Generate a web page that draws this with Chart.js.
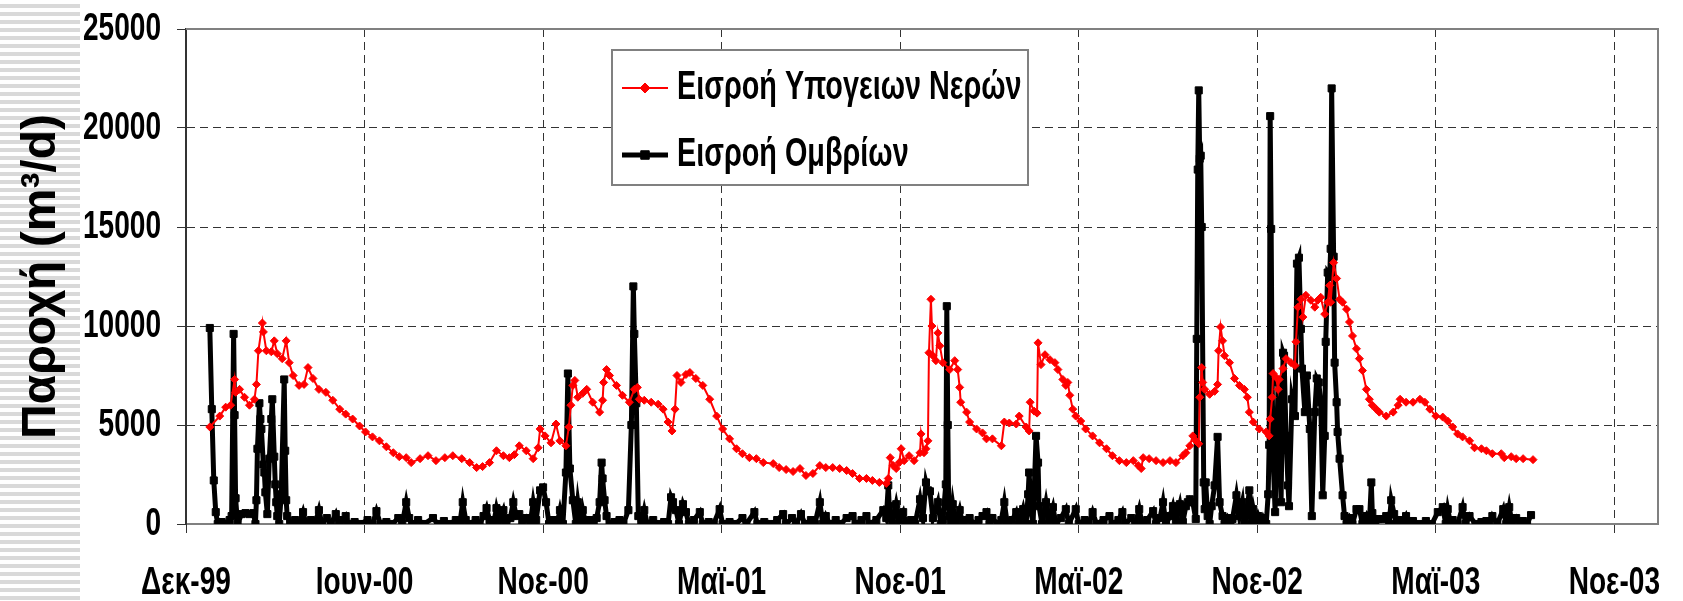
<!DOCTYPE html>
<html>
<head>
<meta charset="utf-8">
<script src="https://cdn.jsdelivr.net/npm/chart.js"></script>
<style>
  html, body { margin: 0; padding: 0; background: #fff; }
  #wrap { position: relative; width: 1683px; height: 601px; }
  #stripes {
    position: absolute; left: 0; top: 0; width: 80px; height: 601px;
    background: repeating-linear-gradient(to bottom, #fff 0px, #fff 4px, #d9d9d9 4px, #d9d9d9 8px);
  }
  canvas { position: absolute; left: 0; top: 0; }
</style>
</head>
<body>
<div id="wrap">
  <div id="stripes"></div>
  <canvas id="chart" width="1683" height="601"></canvas>
</div>
<script>
// x values are days counted from 5 Dec 1999 (axis start)
const startDate = Date.UTC(1999, 11, 5)

const seriesLabels = ['Εισροή Υπογειων Νερών', 'Εισροή Ομβρίων']

const xTickDays = [0, 180, 360, 540, 720, 900, 1080, 1260, 1440]
const xTickLabels = ['Δεκ-99', 'Ιουν-00', 'Νοε-00', 'Μαϊ-01', 'Νοε-01', 'Μαϊ-02', 'Νοε-02', 'Μαϊ-03', 'Νοε-03']
const yTicks = [0, 5000, 10000, 15000, 20000, 25000]

// groundwater inflow (red)
const gwDays = [
  24, 34, 40, 45, 49, 50, 54, 59, 64, 69,
  71, 73, 77, 78, 81, 86, 89, 92, 97, 101,
  104, 108, 114, 119, 123, 128, 134, 141, 148, 155,
  161, 168, 175, 181, 188, 195, 202, 209, 215, 222,
  227, 236, 244, 252, 261, 269, 278, 286, 293, 299,
  306, 313, 320, 326, 331, 336, 343, 350, 355, 357,
  362, 368, 373, 377, 383, 386, 388, 390, 392, 395,
  400, 404, 410, 417, 420, 421, 424, 427, 434, 440,
  447, 452, 455, 457, 462, 469, 476, 481, 486, 490,
  493, 495, 499, 504, 508, 514, 521, 528, 535, 541,
  548, 555, 561, 568, 575, 582, 592, 598, 605, 612,
  619, 625, 632, 639, 645, 652, 659, 666, 672, 679,
  686, 692, 699, 706, 708, 710, 713, 716, 719, 721,
  724, 729, 734, 740, 741, 744, 746, 748, 749, 751,
  752, 753, 756, 758, 760, 763, 770, 775, 778, 780,
  781, 787, 790, 797, 803, 807, 813, 822, 825, 830,
  837, 840, 847, 850, 851, 855, 858, 859, 862, 866,
  871, 876, 879, 884, 887, 889, 891, 894, 897, 902,
  907, 914, 921, 928, 934, 941, 948, 955, 960, 963,
  965, 971, 978, 985, 992, 998, 1005, 1008, 1012, 1015,
  1018, 1021, 1022, 1024, 1025, 1027, 1032, 1037, 1040, 1041,
  1043, 1045, 1047, 1052, 1057, 1062, 1067, 1070, 1072, 1076,
  1082, 1089, 1092, 1093, 1095, 1096, 1099, 1101, 1102, 1106,
  1109, 1114, 1118, 1119, 1121, 1124, 1126, 1129, 1134, 1138,
  1141, 1144, 1148, 1151, 1153, 1154, 1157, 1160, 1163, 1166,
  1170, 1173, 1176, 1180, 1183, 1186, 1190, 1193, 1196, 1200,
  1203, 1210, 1217, 1222, 1224, 1230, 1237, 1244, 1249, 1254,
  1260, 1267, 1272, 1277, 1282, 1287, 1294, 1299, 1306, 1311,
  1317, 1326, 1329, 1336, 1341, 1348, 1358
]
const gwFlow = [
  4900, 5450, 5900, 6000, 7300, 6650, 6800, 6400, 6000, 6300,
  7050, 8750, 10150, 9700, 8750, 8700, 9250, 8600, 8350, 9250,
  8150, 7500, 7000, 7050, 7900, 7350, 6800, 6650, 6250, 5800,
  5550, 5300, 4950, 4650, 4400, 4200, 3900, 3600, 3400, 3350,
  3100, 3300, 3450, 3200, 3350, 3450, 3300, 3100, 2850, 2900,
  3100, 3700, 3450, 3350, 3500, 3950, 3700, 3300, 3850, 4800,
  4450, 4100, 5050, 4200, 3950, 4900, 6000, 7000, 7250, 6400,
  6600, 6800, 6150, 5650, 6250, 7150, 7800, 7500, 7000, 6500,
  6150, 6800, 6900, 6300, 6250, 6150, 6050, 5800, 5150, 4700,
  5800, 7500, 7150, 7550, 7650, 7350, 7000, 6300, 5450, 4800,
  4300, 3800, 3550, 3350, 3300, 3100, 3050, 2850, 2750, 2650,
  2800, 2450, 2550, 2950, 2850, 2850, 2800, 2700, 2550, 2300,
  2300, 2200, 2100, 2050, 2300, 3350, 2950, 2800, 3100, 3800,
  3200, 3450, 3200, 3600, 4550, 3600, 3800, 4200, 8650, 11350,
  10000, 8500, 8250, 9650, 9000, 8150, 7800, 8250, 7800, 6900,
  6150, 5650, 5150, 4800, 4600, 4300, 4300, 3950, 5150, 5100,
  5050, 5450, 4900, 4700, 6150, 5700, 5600, 9150, 8050, 8550,
  8300, 8150, 7800, 7300, 7000, 7150, 6500, 5800, 5450, 5200,
  4800, 4450, 4100, 3800, 3450, 3200, 3100, 3200, 2950, 2800,
  3350, 3300, 3200, 3100, 3200, 3100, 3450, 3600, 3950, 4450,
  4200, 4050, 6400, 7900, 7150, 6800, 6550, 6700, 7050, 8750,
  9950, 9250, 8500, 8150, 7350, 7000, 6800, 6400, 5650, 5150,
  4800, 4650, 4450, 5300, 6400, 7600, 7400, 6800, 7300, 7850,
  8350, 8150, 8000, 9200, 10950, 11350, 10450, 11550, 11300, 10950,
  11300, 11450, 10600, 11200, 12050, 11200, 13200, 12400, 11350, 11200,
  10850, 10200, 9500, 8850, 8350, 7750, 6800, 6300, 6000, 5800,
  5650, 5450, 5650, 6000, 6300, 6150, 6150, 6300, 6150, 5800,
  5450, 5400, 5200, 4900, 4550, 4400, 4200, 3850, 3800, 3700,
  3550, 3550, 3350, 3400, 3300, 3300, 3250
]

// storm water inflow (black)
const stormDays = [
  24, 26, 28, 30, 32, 36, 40, 44, 46, 48,
  49, 50, 52, 56, 60, 64, 68, 70, 71, 72,
  74, 75, 76, 78, 79, 80, 82, 84, 86, 87,
  89, 90, 91, 92, 94, 96, 99, 100, 101, 102,
  105, 110, 114, 118, 121, 126, 130, 134, 137, 142,
  146, 151, 154, 158, 161, 164, 170, 176, 183, 188,
  192, 196, 202, 208, 214, 218, 222, 225, 228, 234,
  240, 249, 254, 260, 266, 272, 276, 279, 282, 286,
  292, 296, 300, 303, 306, 310, 313, 316, 320, 323,
  327, 330, 333, 336, 339, 343, 347, 350, 353, 357,
  360, 363, 366, 370, 374, 377, 380, 383, 385, 387,
  390, 393, 395, 398, 400, 403, 407, 411, 414, 417,
  419, 420, 422, 424, 427, 432, 437, 441, 446, 449,
  451, 452, 454, 456, 459, 462, 465, 471, 476, 482,
  486, 489, 491, 494, 497, 501, 504, 507, 512, 518,
  521, 527, 532, 538, 541, 548, 554, 561, 565, 573,
  576, 583, 590, 596, 602, 605, 611, 615, 620, 624,
  630, 634, 639, 642, 645, 649, 655, 660, 666, 672,
  675, 681, 686, 689, 696, 703, 706, 708, 709, 712,
  716, 719, 723, 726, 731, 735, 740, 743, 746, 748,
  750, 753, 758, 761, 763, 766, 767, 768, 769, 771,
  773, 776, 780, 783, 787, 790, 794, 799, 803, 807,
  810, 813, 818, 822, 825, 828, 833, 837, 840, 844,
  847, 849, 850, 852, 854, 857, 859, 860, 863, 867,
  870, 874, 877, 882, 887, 890, 897, 900, 906, 910,
  914, 918, 925, 931, 934, 940, 944, 947, 953, 957,
  961, 964, 969, 975, 978, 982, 985, 988, 992, 995,
  998, 1002, 1005, 1008, 1010, 1012, 1015, 1018, 1019, 1020,
  1021, 1022, 1023, 1024, 1026, 1027, 1028, 1030, 1032, 1034,
  1037, 1040, 1042, 1045, 1047, 1050, 1053, 1055, 1059, 1062,
  1065, 1067, 1069, 1072, 1074, 1076, 1079, 1081, 1084, 1086,
  1089, 1091, 1092, 1093, 1094, 1095, 1096, 1098, 1101, 1102,
  1104, 1106, 1107, 1109, 1111, 1112, 1115, 1118, 1120, 1122,
  1124, 1125, 1128, 1130, 1133, 1135, 1138, 1140, 1142, 1144,
  1146, 1148, 1149, 1151, 1153, 1154, 1155, 1157, 1158, 1160,
  1161, 1163, 1166, 1168, 1170, 1173, 1176, 1180, 1183, 1186,
  1190, 1193, 1195, 1196, 1199, 1202, 1207, 1210, 1213, 1215,
  1218, 1220, 1223, 1226, 1230, 1233, 1237, 1243, 1250, 1256,
  1262, 1267, 1270, 1272, 1275, 1277, 1282, 1287, 1290, 1294,
  1300, 1306, 1311, 1314, 1317, 1322, 1328, 1331, 1334, 1337,
  1341, 1345, 1348, 1352, 1356
]
const stormFlow = [
  9900, 5800, 2200, 600, 0, 100, 0, 200, 400, 9600,
  5500, 1300, 0, 500, 550, 500, 550, 0, 1200, 3800,
  6100, 5300, 4800, 3000, 2600, 1600, 500, 3300, 5300, 6300,
  3400, 2000, 1100, 400, 0, 1500, 7300, 3700, 1200, 400,
  0, 200, 0, 600, 0, 200, 0, 700, 0, 300,
  0, 500, 0, 200, 400, 0, 100, 0, 200, 0,
  650, 0, 100, 0, 300, 0, 1100, 300, 0, 200,
  0, 300, 0, 150, 0, 200, 0, 1100, 200, 0,
  200, 0, 400, 800, 200, 0, 800, 200, 700, 0,
  300, 1100, 400, 500, 0, 300, 0, 1100, 200, 1700,
  1850, 1100, 0, 200, 0, 700, 0, 2600, 7600, 2800,
  1200, 0, 1100, 0, 700, 0, 200, 0, 300, 1100,
  3100, 2300, 1200, 400, 0, 100, 200, 0, 700, 5000,
  12000, 9600, 6100, 400, 0, 700, 0, 200, 0, 100,
  0, 1350, 1100, 700, 0, 1000, 600, 0, 200, 600,
  0, 100, 0, 750, 0, 100, 0, 300, 0, 600,
  0, 100, 0, 200, 500, 0, 300, 0, 500, 0,
  200, 0, 1100, 0, 400, 0, 200, 0, 300, 400,
  0, 200, 400, 0, 200, 700, 300, 1950, 900, 0,
  1000, 200, 600, 0, 200, 0, 1250, 300, 2100, 1700,
  1650, 300, 1100, 0, 200, 2000, 11000, 5000, 400, 0,
  1000, 0, 700, 0, 200, 300, 0, 200, 400, 600,
  0, 300, 0, 200, 1100, 0, 200, 600, 0, 750,
  0, 1500, 2600, 600, 0, 4450, 3100, 900, 0, 1100,
  200, 850, 0, 300, 750, 0, 750, 0, 200, 0,
  600, 0, 200, 400, 0, 200, 600, 0, 300, 0,
  750, 0, 200, 650, 0, 300, 1100, 0, 400, 900,
  200, 1000, 100, 900, 1100, 1250, 1100, 250, 9350, 17900,
  21900, 18450, 18600, 15000, 2100, 750, 2100, 400, 0, 900,
  1950, 4400, 1100, 400, 0, 300, 0, 250, 1450, 400,
  1100, 0, 400, 1700, 0, 750, 0, 400, 0, 300,
  0, 1500, 4000, 20600, 14900, 7300, 3300, 600, 7150, 5300,
  1100, 8650, 8500, 4450, 1950, 900, 6300, 5450, 13150, 13450,
  9850, 7850, 5650, 7500, 4800, 400, 5650, 7350, 7150, 6150,
  1450, 4450, 9200, 12700, 12550, 13900, 22000, 13500, 8150, 6150,
  4650, 3300, 1450, 400, 0, 300, 0, 750, 750, 0,
  400, 0, 2100, 550, 0, 250, 250, 400, 0, 1200,
  500, 0, 200, 0, 400, 0, 150, 0, 150, 0,
  600, 850, 0, 750, 0, 200, 0, 850, 0, 400,
  0, 100, 150, 0, 400, 0, 750, 0, 850, 0,
  300, 0, 150, 0, 450
]

// tick and legend text is tall and narrow in the original
const narrow = "'Liberation Sans Narrow', 'Liberation Sans', Arial, sans-serif"
const wide = "'Liberation Sans', Arial, sans-serif"
const squeezeX = 0.72

// squeeze text drawn with the narrow family horizontally around its anchor
const squeezePlugin = {
  id: 'squeeze',
  beforeDraw (chart) {
    const ctx = chart.ctx
    if (ctx._plainFill) return
    const plain = ctx.fillText.bind(ctx)
    ctx._plainFill = plain
    ctx.fillText = function (text, x, y, maxWidth) {
      if (this.font.indexOf('Narrow') < 0) {
        return maxWidth === undefined ? plain(text, x, y) : plain(text, x, y, maxWidth)
      }
      this.save()
      this.translate(x, y)
      this.scale(squeezeX, 1)
      plain(text, 0, 0)
      this.restore()
    }
  }
}

// grey frame on top and right of the plot area
const framePlugin = {
  id: 'frame',
  afterDatasetsDraw (chart) {
    const { ctx, chartArea: a } = chart
    ctx.save()
    ctx.strokeStyle = '#808080'
    ctx.lineWidth = 2
    ctx.beginPath()
    ctx.moveTo(a.left, a.top)
    ctx.lineTo(a.right, a.top)
    ctx.lineTo(a.right, a.bottom)
    ctx.stroke()
    ctx.restore()
  }
}

// boxed legend inside the plot, like the original
const legendPlugin = {
  id: 'boxLegend',
  afterDraw (chart) {
    const ctx = chart.ctx
    const box = { x: 612, y: 50, w: 416, h: 135 }
    const rows = [88, 155]
    ctx.save()
    ctx.fillStyle = '#fff'
    ctx.fillRect(box.x, box.y, box.w, box.h)
    ctx.strokeStyle = '#808080'
    ctx.lineWidth = 2
    ctx.strokeRect(box.x, box.y, box.w, box.h)
    chart.data.datasets.forEach((ds, i) => {
      const y = rows[i]
      ctx.strokeStyle = ds.borderColor
      ctx.fillStyle = ds.backgroundColor
      ctx.lineWidth = ds.borderWidth
      ctx.beginPath()
      ctx.moveTo(622, y)
      ctx.lineTo(668, y)
      ctx.stroke()
      ctx.lineWidth = 1
      Chart.helpers.drawPoint(ctx, { pointStyle: ds.pointStyle, radius: ds.pointRadius + 1, borderWidth: 1, rotation: 0 }, 645, y)
      ctx.fillStyle = '#000'
      ctx.font = 'bold 40px ' + narrow
      ctx.textBaseline = 'middle'
      ctx.textAlign = 'left'
      ctx.fillText(ds.label, 677, y)
    })
    ctx.restore()
  }
}

const noPad = s => { s.paddingLeft = 0; s.paddingRight = 0; s.paddingTop = 0; s.paddingBottom = 0 }

const chart = new Chart(document.getElementById('chart'), {
  type: 'line',
  data: {
    datasets: [
      {
        label: seriesLabels[0],
        data: gwDays.map((d, i) => ({ x: d, y: gwFlow[i] })),
        borderColor: '#ff0000',
        backgroundColor: '#ff0000',
        borderWidth: 2,
        pointStyle: 'rectRot',
        pointRadius: 4,
        pointBorderWidth: 1,
        tension: 0
      },
      {
        label: seriesLabels[1],
        data: stormDays.map((d, i) => ({ x: d, y: stormFlow[i] })),
        borderColor: '#000000',
        backgroundColor: '#000000',
        borderWidth: 5,
        pointStyle: 'rect',
        pointRadius: 5,
        pointBorderWidth: 1,
        tension: 0
      }
    ]
  },
  options: {
    responsive: false,
    animation: false,
    devicePixelRatio: 1,
    layout: { padding: { top: 29, right: 25, left: 0, bottom: 0 } },
    plugins: {
      legend: { display: false },
      tooltip: { enabled: false }
    },
    scales: {
      x: {
        type: 'linear',
        min: 0,
        max: 1484,
        afterBuildTicks: s => { s.ticks = xTickDays.map(v => ({ value: v })) },
        afterFit: s => { s.height = 77; noPad(s) },
        ticks: {
          autoSkip: false,
          maxRotation: 0,
          padding: 26,
          color: '#000',
          font: { family: narrow, size: 39, weight: 'bold' },
          callback: (v, i) => xTickLabels[i]
        },
        grid: { color: '#333', lineWidth: 1, borderDash: [8, 5], tickLength: 10, tickBorderDash: [8, 5], tickColor: '#333' },
        border: { display: true, color: '#808080', width: 2, dash: [8, 5] }
      },
      y: {
        min: 0,
        max: 25000,
        afterBuildTicks: s => { s.ticks = yTicks.map(v => ({ value: v })) },
        afterFit: s => { s.width = 186; noPad(s) },
        ticks: {
          padding: 16,
          color: '#000',
          font: { family: narrow, size: 39, weight: 'bold' },
          callback: v => String(v)
        },
        grid: { color: '#333', lineWidth: 1, borderDash: [8, 5], tickLength: 9, tickBorderDash: [], tickColor: '#333' },
        border: { display: true, color: '#333', width: 2, dash: [8, 5] },
        title: {
          display: true,
          text: 'Παροχή (m³/d)',
          color: '#000',
          font: { family: wide, size: 48, weight: 'bold' },
          padding: { top: 13, bottom: 0 }
        }
      }
    }
  },
  plugins: [squeezePlugin, framePlugin, legendPlugin]
})
</script>
</body>
</html>
